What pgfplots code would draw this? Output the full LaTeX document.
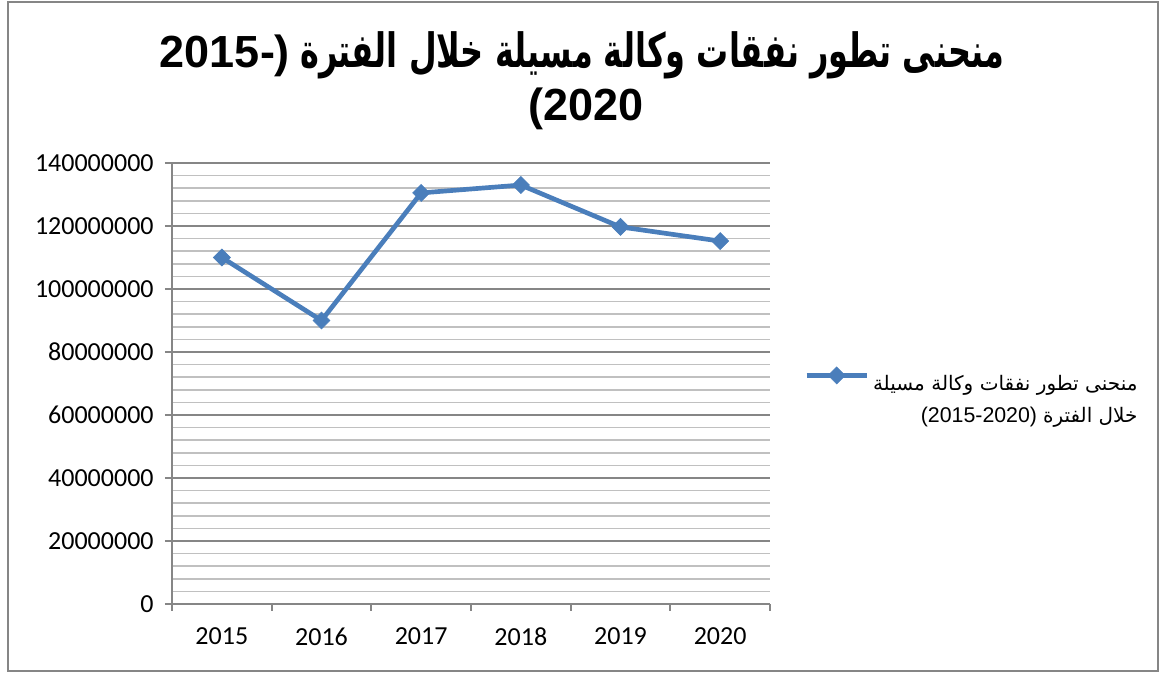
\documentclass[border=0pt]{standalone}
\usepackage{pgfplots}
\pgfplotsset{compat=1.18}
\usepackage{graphicx}
\usepackage{fontspec}
\setmainfont{Carlito}
\newfontfamily\arial{Liberation Sans}
\newfontfamily\arabicfont[Script=Arabic]{DejaVu Sans}
\TeXXeTstate=1
\definecolor{excelblue}{RGB}{74,126,187}
\definecolor{axisgray}{RGB}{134,134,134}
\definecolor{minorgray}{RGB}{192,192,192}
\begin{document}
\begin{tikzpicture}[x=0.75pt,y=0.75pt]
\path (0,0) rectangle (1160,673);
\draw[axisgray, line width=1.5pt] (8,2) rectangle (1158,671);
\node[anchor=base] at (582,605) {\fontsize{33.75}{40}\selectfont\bfseries{\arial 2015-)} \scalebox{0.71}[1.05]{\arabicfont\beginR منحنى تطور نفقات وكالة مسيلة خلال الفترة\endR}};
\node[anchor=base] at (586,552) {\fontsize{33.75}{40}\selectfont\bfseries\arial (2020};
\begin{axis}[
  at={(129pt,51.75pt)}, anchor=south west,
  scale only axis, width=448.5pt, height=330.75pt,
  xmin=-0.5, xmax=5.5, ymin=0, ymax=140000000,
  xtick={-0.5,0.5,1.5,2.5,3.5,4.5,5.5},
  x tick label as interval,
  xticklabels={2015,2016,2017,2018,2019,2020},
  ytick={0,20000000,40000000,60000000,80000000,100000000,120000000,140000000},
  minor y tick num=4,
  axis x line*=bottom, axis y line*=left,
  axis line style={axisgray, line width=1.5pt},
  tick align=outside, major tick length=5.25pt, minor tick length=0pt,
  tick style={axisgray, line width=1.5pt},
  ymajorgrids, yminorgrids,
  major grid style={axisgray, line width=1.2pt},
  minor grid style={minorgray, line width=1.2pt},
  scaled y ticks=false,
  yticklabel style={/pgf/number format/fixed, /pgf/number format/1000 sep={}, xshift=-5pt},
  ticklabel style={font=\fontsize{19.5}{23}\selectfont, /pgf/number format/assume math mode=true},
  xticklabel style={yshift=-9pt},
  legend style={at={(1.057,0.508)}, anchor=west, draw=none, fill=none, inner sep=0pt,
    nodes={inner sep=0pt}, column sep=3pt, font=\fontsize{15}{24}\selectfont},
  legend image code/.code={\draw[#1, mark repeat=2, mark phase=2] plot coordinates {(0pt,4pt) (22.5pt,4pt) (45pt,4pt)};},
]
\addplot[color=excelblue, line width=3.5pt, mark=square*, mark size=4.5pt,
  mark options={solid, line width=0.5pt, rotate=45}]
  coordinates {(0,110000000)(1,90000000)(2,130500000)(3,133000000)(4,119700000)(5,115200000)};
\addlegendentry{\begin{tabular}[t]{@{}r@{}}{\arabicfont\beginR منحنى تطور نفقات وكالة مسيلة\endR}\\{\arial\fontsize{16}{24}\selectfont (2015-2020) }{\arabicfont\beginR خلال الفترة\endR}\end{tabular}}
\end{axis}
\end{tikzpicture}
\end{document}
